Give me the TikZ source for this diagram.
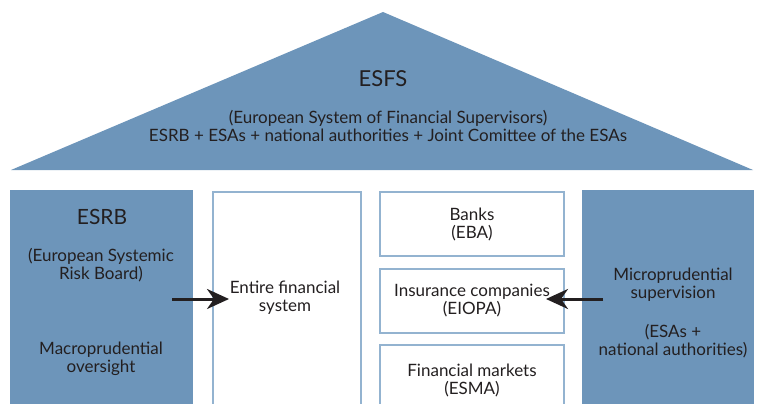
\documentclass[tikz,border=0pt]{standalone}
\usepackage{fontspec}
\setmainfont{Lato}
\usetikzlibrary{arrows.meta}
\definecolor{esfsblue}{HTML}{6D95BA}
\definecolor{edgeblue}{HTML}{93B3D0}
\definecolor{ink}{HTML}{231F20}
\begin{document}
\begin{tikzpicture}[x=1pt,y=-1pt,
  solidbox/.style={fill=esfsblue, draw=none, inner sep=0pt, anchor=north west},
  openbox/.style={fill=white, draw=edgeblue, line width=2pt, inner sep=0pt, anchor=north west},
  label/.style={text=ink, align=center, font=\fontsize{17}{18}\selectfont, inner sep=0pt},
  pointer/.style={draw=ink, line width=3pt, -{Stealth[length=22pt,width=20pt,inset=7pt]}}]
\useasboundingbox (0,0) rectangle (760,404);
% roof
\fill[esfsblue] (11,170) -- (383,12) -- (753,170) -- cycle;
\node[label, font=\fontsize{22}{24}\selectfont] (esfs) at (383,79) {ESFS};
\node[label] (esfsdesc) at (388,126) {(European System of Financial Supervisors)\\ESRB + ESAs + national authorities + Joint Comittee of the ESAs};
% left pillar
\node[solidbox, minimum width=183pt, minimum height=220pt] (esrb) at (10,190) {};
\node[label, font=\fontsize{21}{24}\selectfont] (esrbtitle) at (102,217) {ESRB};
\node[label] (esrbname) at (101,265) {(European Systemic\\Risk Board)};
\node[label] (macro) at (101,359) {Macroprudential\\oversight};
% whole-system box
\node[openbox, minimum width=148pt, minimum height=230pt] (entire) at (212,191) {};
\node[label] (entiretext) at (285,298) {Entire financial\\system};
% sector boxes
\node[openbox, minimum width=184pt, minimum height=64pt] (banks) at (379,191) {};
\node[label] at (banks.center) {Banks\\(EBA)};
\node[openbox, minimum width=184pt, minimum height=64pt] (insurance) at (379,268) {};
\node[label] at (insurance.center) {Insurance companies\\(EIOPA)};
\node[openbox, minimum width=184pt, minimum height=70pt] (markets) at (379,344) {};
\node[label] at ([yshift=-1pt]markets.north |- 0,379) {Financial markets\\(ESMA)};
% right pillar
\node[solidbox, minimum width=172pt, minimum height=220pt] (micro) at (582,190) {};
\node[label] (microtext) at (673,285) {Microprudential\\supervision};
\node[label] (microwho) at (673,341) {(ESAs +\\national authorities)};
% arrows
\coordinate (macroout) at (172,299);
\coordinate (systemin) at (229,299);
\coordinate (microout) at (603,299);
\coordinate (insurancein) at (546,299);
\draw[pointer] (macroout) -- (systemin);
\draw[pointer] (microout) -- (insurancein);
\end{tikzpicture}
\end{document}
